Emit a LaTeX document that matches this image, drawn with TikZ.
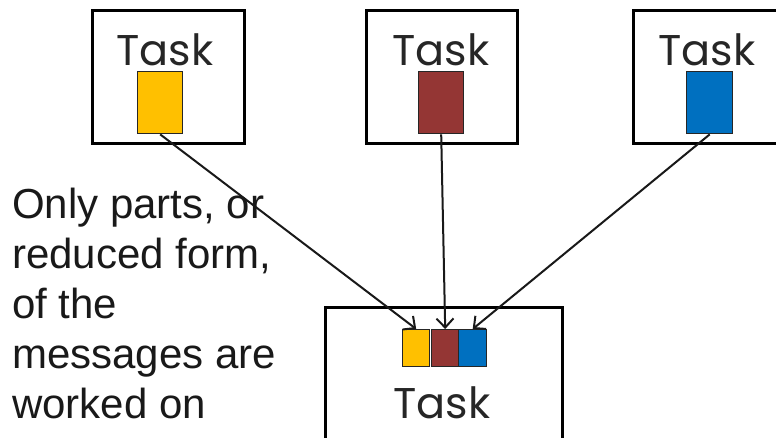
\documentclass[tikz,border=0pt]{standalone}
\usepackage{fontspec}
\setmainfont{Liberation Sans}
\newfontfamily\taskfont{Poppins}
\usetikzlibrary{arrows.meta}
\definecolor{msgyellow}{HTML}{FFC000}
\definecolor{msgred}{HTML}{943634}
\definecolor{msgblue}{HTML}{0070C0}
\begin{document}
\begin{tikzpicture}[x=1pt,y=-1pt,
  taskbox/.style={draw=black,line width=3pt,fill=white,inner sep=0pt},
  msg/.style={draw=black!85,line width=1.4pt,inner sep=0pt},
  tasklabel/.style={font=\taskfont\fontsize{43}{43}\selectfont,text=black!85,anchor=base,inner sep=0pt},
  flow/.style={draw=black!90,line width=2pt,-{Straight Barb[length=9pt,width=17pt,line width=2pt]}},
  note/.style={font=\fontsize{42}{50}\selectfont,text=black!90,align=left,anchor=base west,inner sep=0pt}]
\useasboundingbox (0,0) rectangle (776,437);
\clip (0,0) rectangle (776,437);
% annotation (its base anchor sits on the last line)
\node[note] (n) at (12,418) {Only parts, or\\reduced form,\\of the\\messages are\\worked on};
% sending tasks
\node[taskbox,minimum width=152pt,minimum height=133pt,anchor=north west] (t1) at (91,9) {};
\node[taskbox,minimum width=151pt,minimum height=133pt,anchor=north west] (t2) at (365,9) {};
\node[taskbox,minimum width=200pt,minimum height=133pt,anchor=north west] (t3) at (632,9) {};
\node[tasklabel] (l1) at (165,65) {Task};
\node[tasklabel] (l2) at (441,65) {Task};
\node[tasklabel] (l3) at (707,65) {Task};
\node[msg,fill=msgyellow,minimum width=45pt,minimum height=62pt,anchor=north west] (m1) at (137,71) {};
\node[msg,fill=msgred,minimum width=45pt,minimum height=62pt,anchor=north west] (m2) at (418,71) {};
\node[msg,fill=msgblue,minimum width=46pt,minimum height=62pt,anchor=north west] (m3) at (686,71) {};
% receiving task
\node[taskbox,minimum width=237pt,minimum height=200pt,anchor=north west] (t4) at (324,306) {};
\node[tasklabel] (l4) at (442,418) {Task};
\node[msg,fill=msgyellow,minimum width=27pt,minimum height=37pt,anchor=north west] (r1) at (402,329) {};
\node[msg,fill=msgred,minimum width=27pt,minimum height=37pt,anchor=north west] (r2) at (431,329) {};
\node[msg,fill=msgblue,minimum width=28pt,minimum height=37pt,anchor=north west] (r3) at (458,329) {};
% messages
\draw[flow] (m1.south) -- (r1.north);
\draw[flow] (m2.south) -- (r2.north);
\draw[flow] (m3.south) -- (r3.north);
\end{tikzpicture}
\end{document}
